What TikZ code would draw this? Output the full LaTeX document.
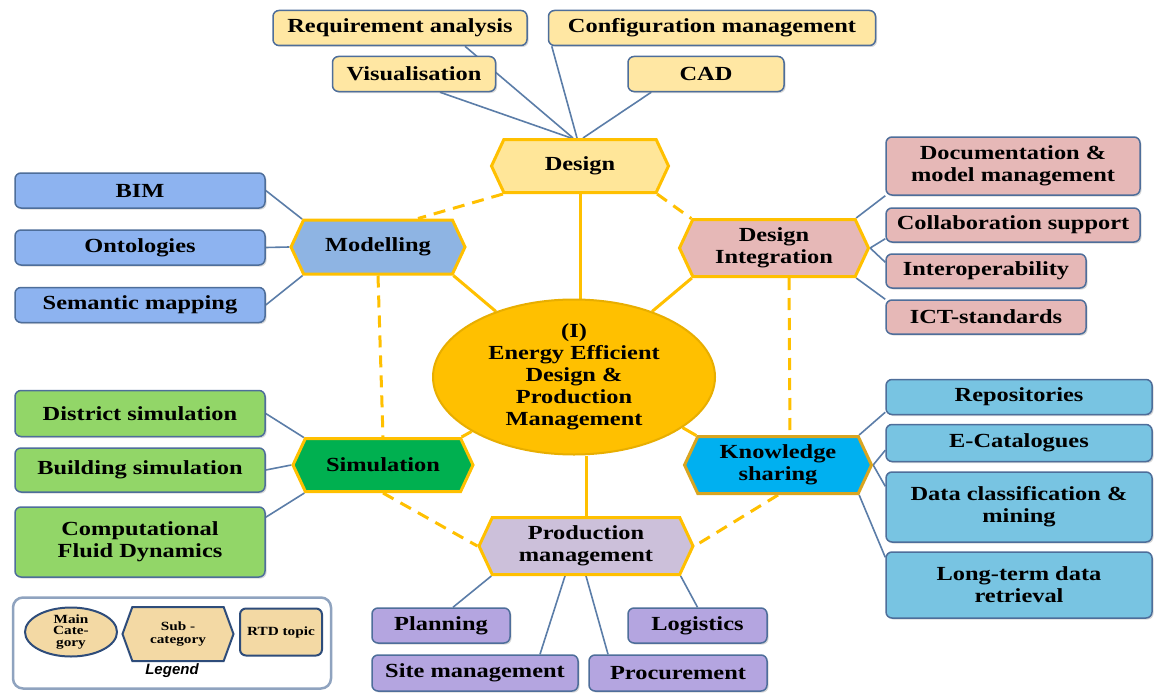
\documentclass[tikz,border=0pt]{standalone}
\usepackage{fontspec}
\setmainfont{Liberation Serif}[FakeStretch=1.22]
\newfontfamily\legfont{Liberation Sans}
\usetikzlibrary{shapes.symbols,shapes.geometric,shadows,backgrounds}
\definecolor{ylw}{HTML}{FFE7A3}
\definecolor{ylwhex}{HTML}{FFE699}
\definecolor{gold}{HTML}{FFC000}
\definecolor{ctrfill}{HTML}{FFC000}
\definecolor{ctrline}{HTML}{E8AE00}
\definecolor{lnblue}{HTML}{5B7DA8}
\definecolor{bxline}{HTML}{4E6E9A}
\definecolor{bluebox}{HTML}{8DB3F0}
\definecolor{bluehex}{HTML}{8EB4E3}
\definecolor{pink}{HTML}{E6B8B7}
\definecolor{greenhex}{HTML}{00B050}
\definecolor{greenbox}{HTML}{92D668}
\definecolor{cyanhex}{HTML}{00B0F0}
\definecolor{cyanbox}{HTML}{78C4E2}
\definecolor{lavhex}{HTML}{CCC0DA}
\definecolor{purpbox}{HTML}{B4A5E0}
\definecolor{tanfill}{HTML}{F3D9A4}
\definecolor{lgline}{HTML}{2E4C7A}
\definecolor{lgframe}{HTML}{8FA3BF}
\definecolor{ksline}{HTML}{D9A520}
\begin{document}
\begin{tikzpicture}[x=1pt,y=-1pt]
\tikzset{
  mfont/.style={font=\fontsize{20}{22}\selectfont\bfseries},
  rtd/.style={draw=bxline, line width=1.5pt, rounded corners=6pt, align=center, inner sep=1pt, mfont,
    drop shadow={shadow xshift=1.5pt, shadow yshift=-1.5pt, opacity=0.3}},
  hexa/.style={signal, signal to=east and west, signal pointer angle=130, draw=gold, line width=3pt,
    align=center, inner sep=1pt, mfont},
  bline/.style={draw=lnblue, line width=1.6pt},
  gline/.style={draw=gold, line width=3pt},
  gdash/.style={gline, dash pattern=on 12pt off 8pt},
}
\useasboundingbox (0,0) rectangle (1155,693);

% top RTD topics
\node[rtd, fill=ylw, minimum width=254pt, minimum height=35pt] (reqa) at (400,28) {Requirement analysis};
\node[rtd, fill=ylw, minimum width=327pt, minimum height=35pt] (conf) at (712,28) {Configuration management};
\node[rtd, fill=ylw, minimum width=163pt, minimum height=35pt] (vis) at (414,74) {Visualisation};
\node[rtd, fill=ylw, minimum width=156pt, minimum height=35pt] (cad) at (706,74) {CAD};

% sub-categories
\node[hexa, fill=ylwhex, minimum width=177pt, minimum height=53pt] (design) at (580,166) {Design};
\node[hexa, fill=bluehex, minimum width=174pt, minimum height=54pt] (model) at (378,247) {Modelling};
\node[hexa, fill=pink, minimum width=189pt, minimum height=57pt] (di) at (774,248) {Design\\Integration};
\node[hexa, fill=greenhex, minimum width=180pt, minimum height=53pt] (sim) at (383,465) {Simulation};
\node[hexa, fill=cyanhex, draw=ksline, minimum width=187pt, minimum height=57pt] (ks) at (778,465) {Knowledge\\sharing};
\node[hexa, fill=lavhex, minimum width=214pt, minimum height=57pt] (prod) at (586,546) {Production\\management};

% main category
\node[ellipse, draw=ctrline, line width=2pt, fill=ctrfill, minimum width=282pt, minimum height=155pt,
  inner sep=0pt, align=center, mfont] (ctr) at (574,377) {(I)\\Energy Efficient\\Design \&\\Production\\Management};

% modelling topics
\node[rtd, fill=bluebox, minimum width=250pt, minimum height=35pt] (bim) at (140,190.5) {BIM};
\node[rtd, fill=bluebox, minimum width=250pt, minimum height=35pt] (ont) at (140,247.5) {Ontologies};
\node[rtd, fill=bluebox, minimum width=250pt, minimum height=35pt] (sem) at (140,305) {Semantic mapping};

% simulation topics
\node[rtd, fill=greenbox, minimum width=250pt, minimum height=46pt] (dist) at (140,413.5) {District simulation};
\node[rtd, fill=greenbox, minimum width=250pt, minimum height=44pt] (build) at (140,470) {Building simulation};
\node[rtd, fill=greenbox, minimum width=250pt, minimum height=70pt] (cfd) at (140,542) {Computational\\Fluid Dynamics};

% design integration topics
\node[rtd, fill=pink, minimum width=254pt, minimum height=58pt] (doc) at (1013,166) {Documentation \&\\model management};
\node[rtd, fill=pink, minimum width=254pt, minimum height=34pt] (collab) at (1013,225) {Collaboration support};
\node[rtd, fill=pink, minimum width=200pt, minimum height=34pt] (interop) at (986,271) {Interoperability};
\node[rtd, fill=pink, minimum width=200pt, minimum height=34pt] (ict) at (986,317) {ICT-standards};

% knowledge sharing topics
\node[rtd, fill=cyanbox, minimum width=266pt, minimum height=35pt] (repo) at (1019,397) {Repositories};
\node[rtd, fill=cyanbox, minimum width=266pt, minimum height=37pt] (ecat) at (1019,443) {E-Catalogues};
\node[rtd, fill=cyanbox, minimum width=266pt, minimum height=70pt] (data) at (1019,507) {Data classification \&\\mining};
\node[rtd, fill=cyanbox, minimum width=266pt, minimum height=66pt] (long) at (1019,585) {Long-term data\\retrieval};

% production topics
\node[rtd, fill=purpbox, minimum width=138pt, minimum height=35pt] (plan) at (441,625.5) {Planning};
\node[rtd, fill=purpbox, minimum width=139pt, minimum height=35pt] (logi) at (697.5,625.5) {Logistics};
\node[rtd, fill=purpbox, minimum width=206pt, minimum height=36pt] (site) at (475,673) {Site management};
\node[rtd, fill=purpbox, minimum width=178pt, minimum height=36pt] (proc) at (678,673) {Procurement};

% legend
\node[draw=lgframe, line width=2.5pt, rounded corners=10pt, fill=white, minimum width=318pt, minimum height=91pt] (legbox) at (172,643) {};
\node[ellipse, draw=lgline, line width=2pt, fill=tanfill, minimum width=92pt, minimum height=49pt, inner sep=0pt,
  align=center, font=\fontsize{12.5}{11.5}\selectfont\bfseries] (lgmain) at (71,632) {Main\\Cate-\\gory};
\node[signal, signal to=east and west, signal pointer angle=140, draw=lgline, line width=2pt, fill=tanfill,
  minimum width=111pt, minimum height=54pt, align=center, inner sep=1pt,
  font=\fontsize{12.5}{13}\selectfont\bfseries] (lgsub) at (178,634) {Sub -\\category};
\node[draw=lgline, line width=2pt, rounded corners=6pt, fill=tanfill, minimum width=82pt, minimum height=47pt,
  font=\fontsize{12.5}{13}\selectfont\bfseries] (lgrtd) at (281,632) {RTD topic};
\node[font=\legfont\fontsize{15}{15}\selectfont\bfseries\itshape] (lgtxt) at (172,671) {Legend};

\begin{scope}[on background layer]
\fill[white] (0,0) rectangle (1155,693);
% gold solid connectors
\draw[gline] (design.south) -- (design.south |- ctr.north);
\draw[gline] (prod.north) -- (prod.north |- ctr.south);
\draw[gline] (model.south east) -- (ctr.140);
\draw[gline] (di.south west) -- (ctr.40);
\draw[gline] (sim.north east) -- (ctr.208);
\draw[gline] (ks.north west) -- (ctr.335);
% gold dashed connectors
\draw[gdash] (design.south west) -- ([xshift=40pt]model.north);
\draw[gdash] (design.south east) -- (di.north west);
\draw[gdash] (model.south) -- (sim.north);
\draw[gdash] ([xshift=15pt]di.south) -- ([xshift=12pt]ks.north);
\draw[gdash] (sim.south) -- (prod.west);
\draw[gdash] (ks.south) -- (prod.east);
% blue connectors
\draw[bline] ([xshift=65pt]reqa.south) -- ([xshift=-7pt]design.north);
\draw[bline] ([xshift=26pt]vis.south) -- ([xshift=-9pt]design.north);
\draw[bline] ([xshift=4pt]conf.south west) -- ([xshift=-3pt]design.north);
\draw[bline] ([xshift=24pt]cad.south west) -- ([xshift=3pt]design.north);
\draw[bline] (bim.east) -- (model.north west);
\draw[bline] (ont.east) -- (model.west);
\draw[bline] (sem.east) -- (model.south west);
\draw[bline] (dist.east) -- (sim.north west);
\draw[bline] (build.east) -- (sim.west);
\draw[bline] ([yshift=-11pt]cfd.north east) -- (sim.south west);
\draw[bline] (doc.south west) -- (di.north east);
\draw[bline] ([yshift=4pt]collab.south west) -- (di.east);
\draw[bline] ([yshift=-9pt]interop.north west) -- (di.east);
\draw[bline] (ict.north west) -- (di.south east);
\draw[bline] ([yshift=3pt]repo.south west) -- (ks.north east);
\draw[bline] ([yshift=12pt]ecat.south west) -- (ks.east);
\draw[bline] ([yshift=-15pt]data.north west) -- (ks.east);
\draw[bline] ([yshift=-6pt]long.north west) -- (ks.south east);
\draw[bline] ([xshift=12pt]plan.north) -- (prod.south west);
\draw[bline] ([xshift=65pt]site.north) -- ([xshift=-21pt]prod.south);
\draw[bline] ([xshift=-70pt]proc.north) -- (prod.south);
\draw[bline] (logi.north) -- (prod.south east);
\end{scope}
\end{tikzpicture}
\end{document}
